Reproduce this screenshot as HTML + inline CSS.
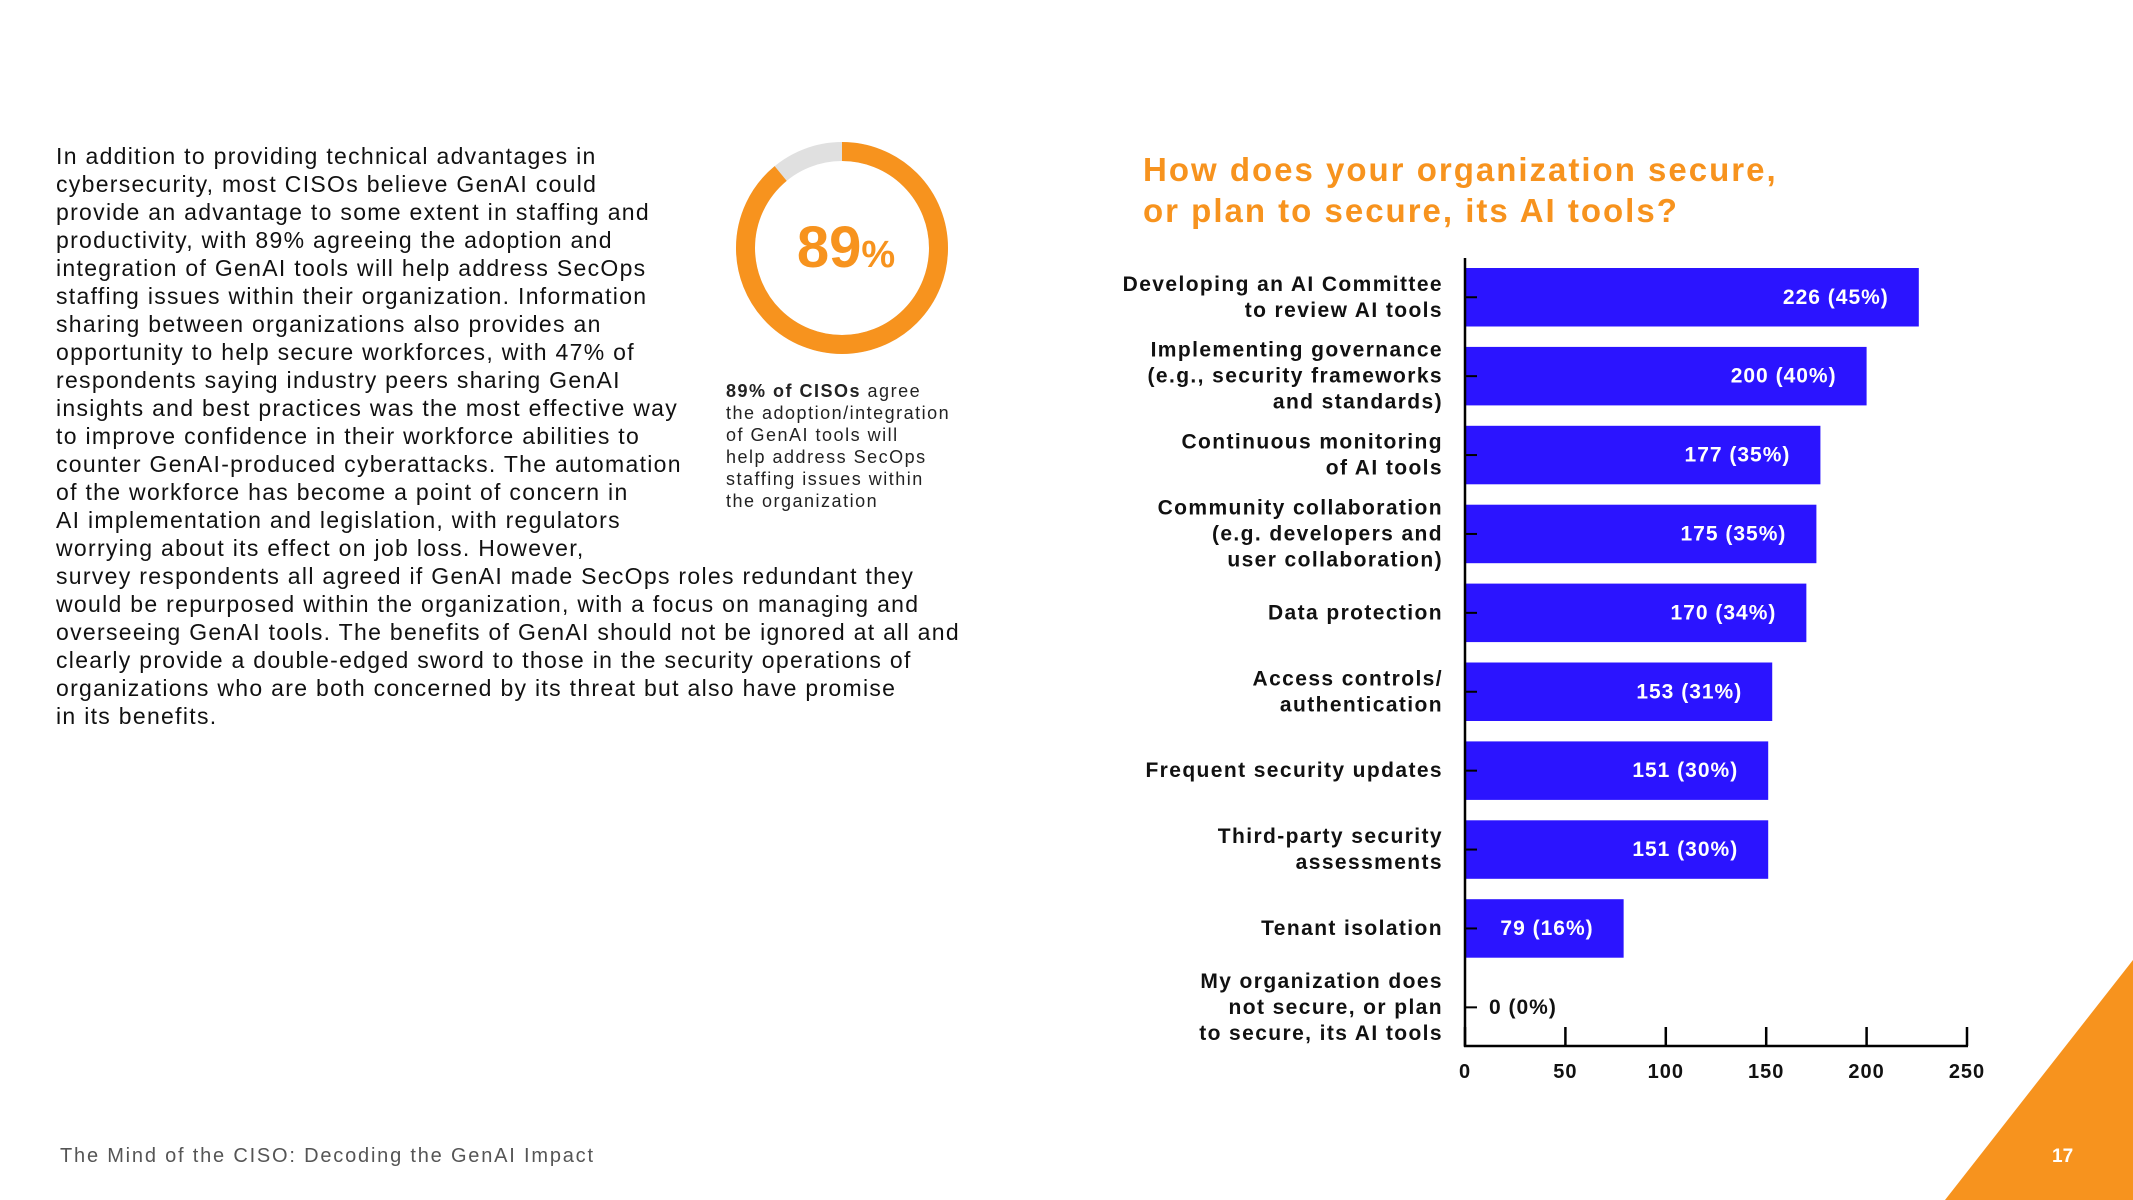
<!DOCTYPE html>
<html><head><meta charset="utf-8">
<style>
html,body{margin:0;padding:0;background:#fff;}
body{width:2133px;height:1200px;position:relative;overflow:hidden;font-family:"Liberation Sans",sans-serif;}
#para{position:absolute;left:56px;top:142px;font-size:23px;line-height:28px;color:#111;white-space:nowrap;letter-spacing:1.3px;}
#caption{position:absolute;left:726px;top:380px;font-size:18px;line-height:22px;color:#222;white-space:nowrap;letter-spacing:1.5px;}
#footer{position:absolute;left:60px;top:1145px;font-size:20px;color:#555;letter-spacing:1.8px;}
#pnum{position:absolute;left:2052px;top:1146px;font-size:19px;color:#fff;font-weight:bold;}
svg{position:absolute;left:0;top:0;}
</style></head><body>
<div id="para">In addition to providing technical advantages in<br>cybersecurity, most CISOs believe GenAI could<br>provide an advantage to some extent in staffing and<br>productivity, with 89% agreeing the adoption and<br>integration of GenAI tools will help address SecOps<br>staffing issues within their organization. Information<br>sharing between organizations also provides an<br>opportunity to help secure workforces, with 47% of<br>respondents saying industry peers sharing GenAI<br>insights and best practices was the most effective way<br>to improve confidence in their workforce abilities to<br>counter GenAI-produced cyberattacks. The automation<br>of the workforce has become a point of concern in<br>AI implementation and legislation, with regulators<br>worrying about its effect on job loss. However,<br>survey respondents all agreed if GenAI made SecOps roles redundant they<br>would be repurposed within the organization, with a focus on managing and<br>overseeing GenAI tools. The benefits of GenAI should not be ignored at all and<br>clearly provide a double-edged sword to those in the security operations of<br>organizations who are both concerned by its threat but also have promise<br>in its benefits.</div>
<div id="caption"><b>89% of CISOs</b> agree<br>the adoption/integration<br>of GenAI tools will<br>help address SecOps<br>staffing issues within<br>the organization</div>
<div id="footer">The Mind of the CISO: Decoding the GenAI Impact</div>
<svg width="2133" height="1200" id="chart">
  <polygon points="2133,960 1945,1200 2133,1200" fill="#F7931E"/>
  <g id="donut"></g>
  <text x="1143" y="181" font-size="33" font-weight="bold" fill="#F7931E" letter-spacing="2">How does your organization secure,</text>
  <text x="1143" y="222" font-size="33" font-weight="bold" fill="#F7931E" letter-spacing="2">or plan to secure, its AI tools?</text>
  <g id="plot"></g>
</svg>
<div id="pnum">17</div>
<script>
const categories = [
 ["Developing an AI Committee","to review AI tools"],
 ["Implementing governance","(e.g., security frameworks","and standards)"],
 ["Continuous monitoring","of AI tools"],
 ["Community collaboration","(e.g. developers and","user collaboration)"],
 ["Data protection"],
 ["Access controls/","authentication"],
 ["Frequent security updates"],
 ["Third-party security","assessments"],
 ["Tenant isolation"],
 ["My organization does","not secure, or plan","to secure, its AI tools"]
];
const values = [226,200,177,175,170,153,151,151,79,0];
const percents = [45,40,35,35,34,31,30,30,16,0];
const xTicks = [0,50,100,150,200,250];
const donutPct = [89];

const NS="http://www.w3.org/2000/svg";
const plot=document.getElementById('plot');
const x0=1465, x1=1967, xmax=250;
const xs=v=>x0+(v/xmax)*(x1-x0);
const yTop=268, pitch=78.9, bh=58.5;
const yc=i=>yTop+i*pitch+bh/2;
function mk(t,a){const e=document.createElementNS(NS,t);for(const k in a)e.setAttribute(k,a[k]);plot.appendChild(e);return e;}

values.forEach((v,i)=>{
  if(v>0){
    const r=mk('rect',{x:x0,y:yc(i)-bh/2,width:xs(v)-x0,height:bh,fill:'#2B14FF'});
    
    
  }
  const tk=mk('line',{x1:x0,x2:x0+12,y1:yc(i),y2:yc(i),stroke:'#000','stroke-width':2});
  
  
  const lab=v+' ('+percents[i]+'%)';
  const t=mk('text',{'font-size':21,'font-weight':'bold','dominant-baseline':'central',y:yc(i),'letter-spacing':1});
  t.textContent=lab;
  if(v>0){t.setAttribute('x',xs(v)-30);t.setAttribute('text-anchor','end');t.setAttribute('fill','#fff');}
  else{t.setAttribute('x',x0+24);t.setAttribute('fill','#111');}
  
  
  const lines=categories[i];
  lines.forEach((ln,j)=>{
    const c=mk('text',{x:1443,y:yc(i)+(j-(lines.length-1)/2)*26,'font-size':21,'font-weight':'bold','text-anchor':'end','dominant-baseline':'central',fill:'#111','letter-spacing':1.4});
    c.textContent=ln;
    
    
  });
});
const ax=mk('line',{x1:x0,x2:x0,y1:258,y2:1047,stroke:'#000','stroke-width':2.5});


const bx=mk('line',{x1:x0-1,x2:x1+1,y1:1046,y2:1046,stroke:'#000','stroke-width':2.5});


xTicks.forEach(v=>{
  const l=mk('line',{x1:xs(v),x2:xs(v),y1:1046,y2:1027,stroke:'#000','stroke-width':2.5});
  
  
  const t=mk('text',{x:xs(v),y:1078,'font-size':20,'font-weight':'bold','text-anchor':'middle',fill:'#111','letter-spacing':1});
  t.textContent=v;
  
  
});

const dg=document.getElementById('donut');
const cx=842,cy=248,R=96.5,sw=19;
const C=2*Math.PI*R;
function dm(t,a){const e=document.createElementNS(NS,t);for(const k in a)e.setAttribute(k,a[k]);dg.appendChild(e);return e;}
const bg=dm('circle',{cx:cx,cy:cy,r:R,fill:'none',stroke:'#E0E0E0','stroke-width':sw});


const arc=dm('circle',{cx:cx,cy:cy,r:R,fill:'none',stroke:'#F7931E','stroke-width':sw,
  'stroke-dasharray':(C*donutPct[0]/100)+' '+C,transform:'rotate(-90 '+cx+' '+cy+')'});


const dt=dm('text',{x:cx+4,y:cy+19,'text-anchor':'middle','font-weight':'bold',fill:'#F7931E'});
dt.innerHTML='<tspan font-size="58">'+donutPct[0]+'</tspan><tspan font-size="38">%</tspan>';


</script>
</body></html>
